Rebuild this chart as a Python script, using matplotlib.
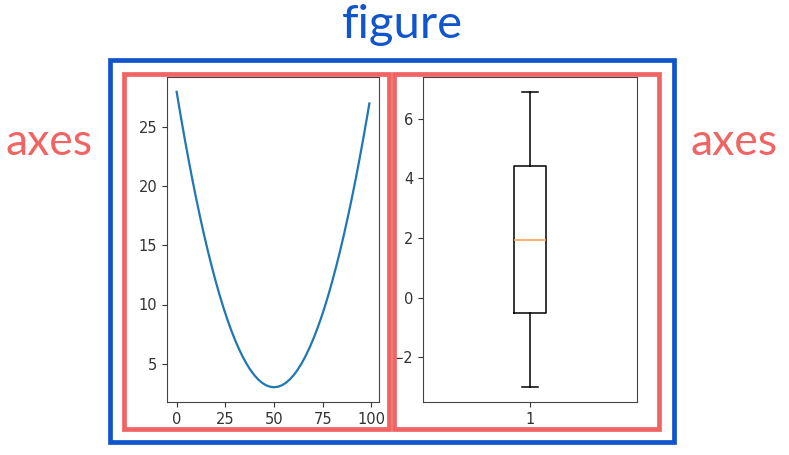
import matplotlib
matplotlib.use("Agg")
from matplotlib import pyplot as plt
from matplotlib.patches import Rectangle

# left panel: a U-shaped curve
curve_x = [0, 2, 4, 6, 8, 10, 12, 14, 16, 18, 20, 22, 24, 26, 28, 30, 32, 34,
           36, 38, 40, 42, 44, 46, 48, 50, 52, 54, 56, 58, 60, 62, 64, 66, 68,
           70, 72, 74, 76, 78, 80, 82, 84, 86, 88, 90, 92, 94, 96, 98, 99]
curve_y = [28.0, 26.04, 24.16, 22.36, 20.64, 19.0, 17.44, 15.96, 14.56, 13.24,
           12.0, 10.84, 9.76, 8.76, 7.84, 7.0, 6.24, 5.56, 4.96, 4.44, 4.0,
           3.64, 3.36, 3.16, 3.04, 3.0, 3.04, 3.16, 3.36, 3.64, 4.0, 4.44,
           4.96, 5.56, 6.24, 7.0, 7.84, 8.76, 9.76, 10.84, 12.0, 13.24, 14.56,
           15.96, 17.44, 19.0, 20.64, 22.36, 24.16, 26.04, 27.01]

# right panel: one box
box_label = "1"
box_whislo = -3.0
box_q1 = -0.5
box_med = 1.95
box_q3 = 4.4
box_whishi = 6.9

W, H = 789, 455
fig = plt.figure(figsize=(W / 100, H / 100), dpi=100)

def frac(x0, y0, x1, y1):
    # pixel box (top-left origin) -> figure fraction [l, b, w, h]
    return [x0 / W, 1 - y1 / H, (x1 - x0) / W, (y1 - y0) / H]

tick_color = "#333333"
spine_color = "#444444"

ax1 = fig.add_axes(frac(167, 77, 379, 402))
ax1.plot(curve_x, curve_y, color="#1f77b4", lw=1.6)
ax1.set_yticks([5, 10, 15, 20, 25])
ax1.set_xticks([0, 25, 50, 75, 100])

ax2 = fig.add_axes(frac(423, 77, 637, 402))
stats = [dict(med=box_med, q1=box_q1, q3=box_q3, whislo=box_whislo,
              whishi=box_whishi, fliers=[], label=box_label)]
ax2.bxp(stats, positions=[1], widths=0.15, showfliers=False,
        boxprops=dict(color="black", lw=1.1),
        whiskerprops=dict(color="black", lw=1.1),
        capprops=dict(color="black", lw=1.1),
        medianprops=dict(color="#ff9f40", lw=1.1))
ax2.set_xlim(0.5, 1.5)
ax2.set_ylim(-3.495, 7.395)
ax2.set_yticks([-2, 0, 2, 4, 6])

for ax in (ax1, ax2):
    ax.tick_params(labelsize=10.5, colors=tick_color, length=3.5, width=0.8)
    for s in ax.spines.values():
        s.set_color(spine_color)
        s.set_linewidth(0.8)

# annotation frames
blue = "#1155cc"
red = "#f06464"

def frame(x0, y0, x1, y1, color, lw):
    l, b, w, h = frac(x0, y0, x1, y1)
    fig.patches.append(Rectangle((l, b), w, h, transform=fig.transFigure,
                                 fill=False, edgecolor=color, lw=lw,
                                 joinstyle="miter", zorder=5))

frame(109.5, 59.5, 673.5, 442, blue, 3.4)
frame(124.5, 74, 389, 429, red, 3.4)
frame(394, 74, 659, 429, red, 3.4)

fig.text(402 / W, 1 - 37.5 / H, "figure", color=blue, fontsize=34,
         family="Lato", ha="center", va="baseline")
fig.text(49 / W, 1 - 155 / H, "axes", color=red, fontsize=32,
         family="Lato", ha="center", va="baseline")
fig.text(734.5 / W, 1 - 155 / H, "axes", color=red, fontsize=32,
         family="Lato", ha="center", va="baseline")

fig.savefig("out.png", dpi=100)
